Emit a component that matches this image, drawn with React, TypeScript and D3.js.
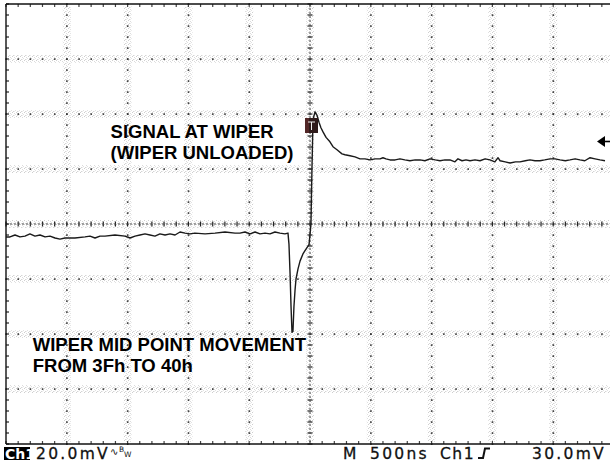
import React from "react";
import * as d3 from "d3";

// time (ns, relative to screen centre) and voltage (mV) of the trace
const timeNs = [
  -2500, -2467, -2426, -2385, -2344, -2303, -2262, -2220, -2179, -2138, -2097, -2056, -2015,
  -1933, -1850, -1809, -1768, -1727, -1686, -1604, -1521, -1480, -1439, -1398, -1357, -1316,
  -1275, -1234, -1192, -1151, -1110, -1069, -1028, -987, -946, -863, -781, -699, -617, -576,
  -535, -493, -452, -411, -370, -329, -288, -247, -206, -181, -173, -164, -156, -148, -140,
  -132, -123, -115, -99, -82, -58, -33, -8, 8, 16, 25, 41, 58, 74, 90, 107, 132, 164, 189,
  222, 263, 288, 329, 370, 411, 452, 493, 535, 576, 600, 625, 658, 700, 740, 780, 822, 865,
  905, 945, 987, 1030, 1069, 1110, 1151, 1192, 1217, 1250, 1283, 1316, 1357, 1398, 1440,
  1480, 1520, 1546, 1563, 1605, 1645, 1690, 1727, 1770, 1809, 1850, 1891, 1930, 1974, 2015,
  2056, 2100, 2138, 2180, 2220, 2260, 2303, 2344, 2385, 2426, 2467,
];
const voltMv = [
  -4.7, -4.7, -4.0, -4.7, -4.4, -3.6, -4.4, -4.0, -4.7, -4.4, -5.1, -5.5, -5.1,
  -5.1, -4.7, -4.4, -5.1, -4.4, -4.4, -4.0, -4.4, -5.1, -4.4, -4.0, -3.6, -4.0,
  -4.4, -3.6, -4.0, -3.6, -4.0, -2.9, -3.3, -3.6, -3.3, -3.6, -3.3, -2.9, -3.3, -3.3,
  -2.9, -3.6, -2.9, -3.6, -3.3, -3.6, -2.9, -3.3, -3.6, -3.3, -7.3, -18.0, -30.0, -39.4, -39.0,
  -30.0, -24.0, -20.0, -16.4, -13.5, -10.9, -9.1, -7.5, 0.0, 20.0, 38.0, 40.8, 39.5, 37.0, 35.0,
  33.5, 31.5, 29.9, 28.1, 27.0, 25.5, 25.2, 24.8, 24.4, 23.7, 23.7, 23.3, 23.7, 23.7, 24.1,
  23.7, 23.3, 23.3, 23.7, 23.3, 23.0, 23.3, 23.3, 23.0, 23.7, 23.3, 23.0, 23.3, 23.3, 22.6,
  23.7, 23.0, 23.3, 23.0, 23.3, 23.0, 23.7, 23.3, 22.6, 24.1, 23.0, 22.6, 22.2, 22.6, 22.6,
  23.0, 23.3, 23.0, 23.0, 23.3, 23.7, 23.7, 23.3, 23.0, 23.3, 23.7, 23.3, 23.0, 24.1, 23.7,
  23.3, 23.0,
];

const timeDomain = [-2500, 2500];
const voltDomain = [-80, 80];
const triggerLevelMv = 30;
const triggerMarkerMv = 36;
const xDivisions = [-2500, -2000, -1500, -1000, -500, 0, 500, 1000, 1500, 2000, 2500];
const yDivisions = [-80, -60, -40, -20, 0, 20, 40, 60, 80];

const annotations = [
  { t: -1640, v: 31.2, lines: ["SIGNAL AT WIPER", "(WIPER UNLOADED)"] },
  { t: -2280, v: -46.2, lines: ["WIPER MID POINT MOVEMENT", "FROM 3Fh TO 40h"] },
];

export default function App() {
  const W = 610;
  const H = 463;
  const x = d3.scaleLinear().domain(timeDomain).range([6, 614]);
  const y = d3.scaleLinear().domain(voltDomain).range([444, 4]);
  const data = timeNs.map((t, i) => [t, voltMv[i]] as [number, number]);
  const line = d3
    .line<[number, number]>()
    .x((d) => x(d[0]))
    .y((d) => y(d[1]));

  const minorX: number[] = d3.range(timeDomain[0], timeDomain[1] + 1, 100);
  const minorY: number[] = d3.range(voltDomain[0], voltDomain[1] + 0.1, 4);

  const inner = (arr: number[]) => arr.slice(1, arr.length - 1);
  const els: React.ReactNode[] = [];

  // halo bands (speckled gray around grid lines)
  inner(xDivisions).forEach((t, i) => {
    els.push(
      <rect key={"hv" + i} x={x(t) - 4} y={y(80) + 2} width={8} height={y(-80) - y(80) - 4} fill="url(#speck)" />
    );
  });
  inner(yDivisions).forEach((v, i) => {
    els.push(
      <rect key={"hh" + i} x={x(-2500) + 2} y={y(v) - 4} width={x(2500) - x(-2500) - 4} height={8} fill="url(#speck)" />
    );
  });

  // dotted grid lines
  inner(xDivisions).forEach((t, i) => {
    minorY.forEach((v, j) => {
      if (t === 0) {
        els.push(
          <line key={`cv${i}-${j}`} x1={x(t) - 2.5} x2={x(t) + 2.5} y1={y(v)} y2={y(v)} stroke="#222" strokeWidth={1.2} />
        );
      } else {
        els.push(<rect key={`dv${i}-${j}`} x={x(t) - 0.7} y={y(v) - 0.7} width={1.6} height={1.6} fill="#333" />);
      }
    });
  });
  inner(yDivisions).forEach((v, i) => {
    minorX.forEach((t, j) => {
      if (v === 0) {
        els.push(
          <line key={`ch${i}-${j}`} x1={x(t)} x2={x(t)} y1={y(v) - 2.5} y2={y(v) + 2.5} stroke="#222" strokeWidth={1.2} />
        );
      } else {
        els.push(<rect key={`dh${i}-${j}`} x={x(t) - 0.7} y={y(v) - 0.7} width={1.6} height={1.6} fill="#333" />);
      }
    });
  });
  // centre cross lines (fine dotted)
  els.push(
    <line key="cxl" x1={x(-2500)} x2={x(2500)} y1={y(0)} y2={y(0)} stroke="#444" strokeWidth={1} strokeDasharray="2 2" />
  );
  els.push(
    <line key="cyl" x1={x(0)} x2={x(0)} y1={y(80)} y2={y(-80)} stroke="#444" strokeWidth={1} strokeDasharray="2 2" />
  );
  // border ticks
  minorY.forEach((v, j) => {
    els.push(<line key={"lt" + j} x1={x(-2500)} x2={x(-2500) + 3} y1={y(v)} y2={y(v)} stroke="#222" strokeWidth={1.2} />);
  });
  minorX.forEach((t, j) => {
    els.push(<line key={"tt" + j} x1={x(t)} x2={x(t)} y1={y(80)} y2={y(80) + 3} stroke="#444" strokeWidth={1.2} />);
    els.push(<line key={"bt" + j} x1={x(t)} x2={x(t)} y1={y(-80)} y2={y(-80) - 3} stroke="#444" strokeWidth={1.2} />);
  });

  const mx = x(0);
  const my = y(triggerMarkerMv);
  const ay = y(triggerLevelMv);
  const statusFont = "'DejaVu Sans', Verdana, sans-serif";

  return (
    <svg width={W} height={H} style={{ position: "absolute", left: 0, top: 0, background: "#fff" }}>
      <defs>
        <pattern id="speck" width="4" height="4" patternUnits="userSpaceOnUse">
          <rect x="0" y="0" width="1" height="1" fill="#cfcfcf" />
          <rect x="2" y="1" width="1" height="1" fill="#dcdcdc" />
          <rect x="1" y="3" width="1" height="1" fill="#d6d6d6" />
          <rect x="3" y="2" width="1" height="1" fill="#e2e2e2" />
          <rect x="2" y="3" width="1" height="1" fill="#ececec" />
        </pattern>
      </defs>
      <rect x={0} y={0} width={W} height={H} fill="#fff" />
      {els}
      {/* border */}
      <line x1={x(-2500)} x2={x(2500)} y1={y(80)} y2={y(80)} stroke="#111" strokeWidth={1.4} />
      <line x1={x(-2500)} x2={x(2500)} y1={y(-80)} y2={y(-80)} stroke="#111" strokeWidth={1.4} />
      <line x1={x(-2500)} x2={x(-2500)} y1={y(80)} y2={y(-80)} stroke="#111" strokeWidth={1.4} />
      {/* trace */}
      <path d={line(data) || ""} fill="none" stroke="#1a1a1a" strokeWidth={1.4} strokeLinejoin="round" />
      {/* trigger position marker */}
      <rect x={mx - 5} y={my - 7} width={13} height={15} fill="#2e1a1a" />
      <rect x={mx - 5} y={my - 7} width={4} height={15} fill="#6a3030" opacity={0.6} />
      <line x1={mx - 2} x2={mx + 5} y1={my - 3} y2={my - 3} stroke="#eee" strokeWidth={1} />
      <line x1={mx + 1.5} x2={mx + 1.5} y1={my - 3} y2={my + 5} stroke="#eee" strokeWidth={1} />
      {/* trigger level arrow */}
      <path d={`M${x(2500) - 17},${ay} L${x(2500) - 9},${ay - 5.5} L${x(2500) - 9},${ay + 5.5} Z`} fill="#000" />
      <line x1={x(2500) - 10} x2={x(2500) - 4} y1={ay} y2={ay} stroke="#000" strokeWidth={1.6} />
      {/* annotations */}
      {annotations.map((a, i) => (
        <text
          key={"a" + i}
          x={x(a.t)}
          y={y(a.v)}
          fontFamily="'Liberation Sans', Arial, sans-serif"
          fontWeight="bold"
          fontSize={18.5}
          fill="#000"
        >
          {a.lines.map((l, j) => (
            <tspan key={j} x={x(a.t)} dy={j === 0 ? 0 : 21}>
              {l}
            </tspan>
          ))}
        </text>
      ))}
      {/* status bar */}
      <rect x={4} y={447} width={26} height={13} fill="#000" />
      <text x={5} y={459} fontFamily={statusFont} fontSize={14} fill="#fff" fontWeight="bold">
        Ch1
      </text>
      <g fontFamily={statusFont} fontSize={15.5} fill="#111" stroke="#111" strokeWidth={0.3}>
        <text x={36} y={459} letterSpacing={2.3}>
          20.0mV
        </text>
        <text x={343} y={459} letterSpacing={2}>
          M
        </text>
        <text x={370} y={459} letterSpacing={2.3}>
          500ns
        </text>
        <text x={440} y={459} letterSpacing={1.5}>
          Ch1
        </text>
        <text x={532} y={459} letterSpacing={2.3}>
          30.0mV
        </text>
      </g>
      <text x={110} y={455} fontFamily={statusFont} fontSize={10} fill="#111">
        ∿
      </text>
      <text x={119} y={452} fontFamily={statusFont} fontSize={7.5} fill="#111">
        B
      </text>
      <text x={124} y={457} fontFamily={statusFont} fontSize={7.5} fill="#111">
        W
      </text>
      <path d="M478,458 L483,458 L485,448.5 L490,448.5" fill="none" stroke="#111" strokeWidth={2} />
    </svg>
  );
}
